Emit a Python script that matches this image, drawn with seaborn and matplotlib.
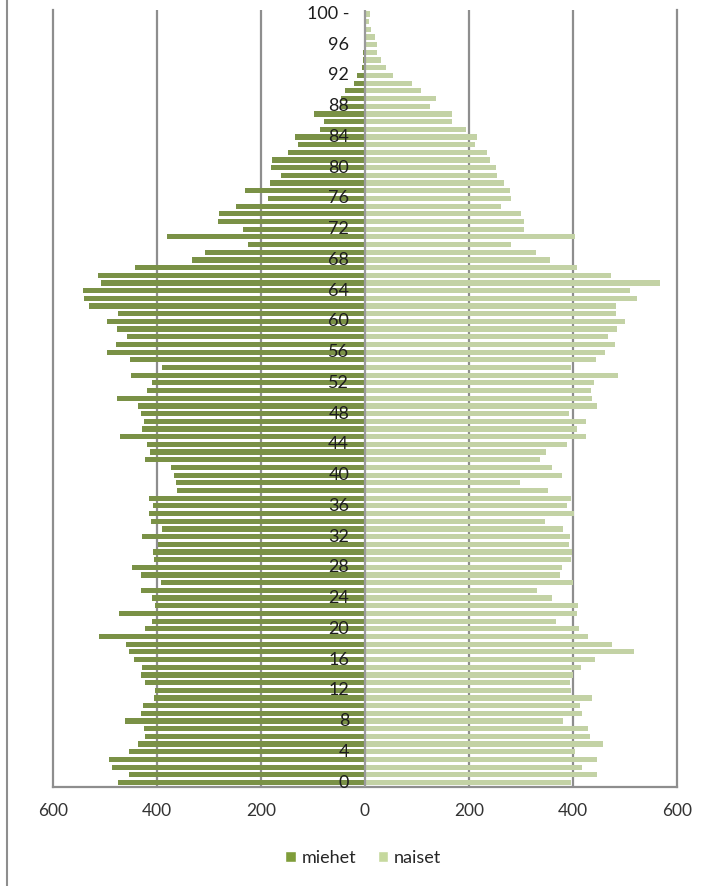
import numpy as np
import pandas as pd
import seaborn as sns
import matplotlib.pyplot as plt
from matplotlib.patches import Patch
from matplotlib.lines import Line2D

sns.set_style('white')
plt.rcParams['font.family'] = ['Lato', 'DejaVu Sans']

# ages 0 .. 100- (bottom to top)
ages = list(range(0, 101))
age_labels = [str(a) if a < 100 else '100 -' for a in ages]

miehet = [474, 454, 487, 493, 454, 436, 422, 424, 461, 431,
          426, 405, 404, 422, 431, 428, 444, 454, 459, 512,
          422, 410, 473, 404, 410, 431, 392, 430, 448, 405,
          408, 398, 428, 390, 412, 416, 408, 416, 361, 363,
          367, 373, 422, 414, 420, 471, 428, 424, 431, 436,
          477, 420, 410, 450, 390, 451, 496, 479, 457, 477,
          496, 474, 530, 540, 542, 508, 513, 443, 333, 307,
          224, 380, 234, 282, 281, 247, 187, 230, 183, 161,
          181, 178, 147, 128, 135, 86, 79, 97, 47, 45,
          39, 21, 15, 5, 3, 3, 2, 2, 1, 1,
          1]

naiset = [397, 446, 417, 446, 405, 458, 433, 430, 381, 418,
          414, 437, 397, 394, 400, 416, 442, 517, 476, 430,
          412, 367, 409, 410, 360, 331, 400, 375, 380, 396,
          398, 392, 394, 381, 347, 402, 389, 396, 352, 298,
          380, 360, 337, 348, 389, 426, 409, 426, 392, 446,
          438, 436, 440, 487, 396, 444, 462, 482, 467, 486,
          500, 484, 483, 523, 510, 567, 474, 409, 356, 329,
          281, 404, 306, 306, 301, 262, 282, 279, 267, 254,
          252, 241, 236, 212, 216, 194, 167, 167, 125, 136,
          109, 90, 55, 41, 31, 24, 23, 20, 11, 8,
          10]

x_ticks = [-600, -400, -200, 0, 200, 400, 600]
x_tick_labels = ['600', '400', '200', '0', '200', '400', '600']

c_miehet = '#7f9d3a'
c_naiset = '#c6d99e'

df = pd.DataFrame({
    'age': ages * 2,
    'value': [-v for v in miehet] + naiset,
    'sex': ['miehet'] * len(ages) + ['naiset'] * len(ages),
})

fig = plt.figure(figsize=(7.12, 8.86), dpi=100)
ax = fig.add_axes([0.0744, 0.112, 0.876, 0.877])

sns.barplot(data=df, x='value', y='age', hue='sex', orient='h',
            native_scale=True, dodge=False, width=0.68,
            palette={'miehet': c_miehet, 'naiset': c_naiset},
            edgecolor='none', legend=False, ax=ax, zorder=2)

# back wall gridlines
for gx in [-400, -200, 200, 400]:
    ax.axvline(gx, color='#8e8e8e', lw=1.6, zorder=1)
ax.axvline(0, color='#9a9a9a', lw=1.6, zorder=3)

ax.set_xlim(-600, 600)
ax.set_ylim(-0.55, 100.55)
ax.set_xticks(x_ticks)
ax.set_xticklabels(x_tick_labels, fontsize=12.5, color='#333333')
ax.set_yticks([])
ax.tick_params(axis='x', length=0, pad=12)
ax.set_xlabel('')
ax.set_ylabel('')

for s in ['left', 'right', 'bottom']:
    ax.spines[s].set_color('#8e8e8e')
    ax.spines[s].set_linewidth(1.6)
ax.spines['top'].set_visible(False)

# age labels in the middle
for a, lab in zip(ages, age_labels):
    if a % 4 == 0 or a == 100:
        ax.text(-30, a, lab, ha='right', va='center', fontsize=13,
                color='#1e1e1e', zorder=4)

handles = [Patch(facecolor=c_miehet, label='miehet'),
           Patch(facecolor=c_naiset, label='naiset')]
fig.legend(handles=handles, loc='center', bbox_to_anchor=(0.51, 0.032),
           ncol=2, frameon=False, fontsize=13, handlelength=0.6,
           handleheight=0.6, handletextpad=0.3, columnspacing=1.2)

# chart area border on the left
fig.add_artist(Line2D([0.0098, 0.0098], [0, 1], color='#8e8e8e', lw=1.5,
                      transform=fig.transFigure))

fig.savefig('out.png', dpi=100, facecolor='white')
